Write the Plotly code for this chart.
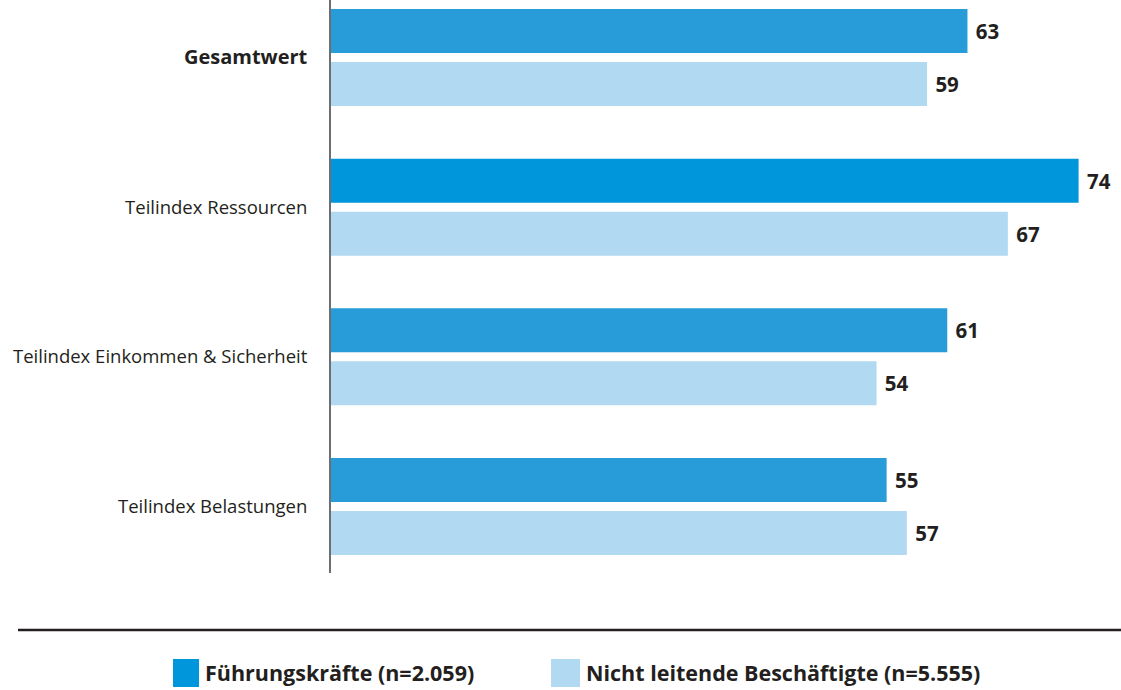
import plotly.graph_objects as go

categories = ["<span style='font-size:20px'><b>Gesamtwert</b></span>", "Teilindex Ressourcen",
              "Teilindex Einkommen & Sicherheit", "Teilindex Belastungen"]
fuehrung = [63, 74, 61, 55]
nicht_leitend = [59, 67, 54, 57]
series_names = ["Führungskräfte (n=2.059)", "Nicht leitende Beschäftigte (n=5.555)"]

dark_colors = ["#279cd9", "#0096db", "#279cd9", "#279cd9"]
light_color = "#b2d9f2"
text_color = "#231f20"
FONT = "Open Sans"

W, H = 1121, 690
ML, MR, MT, MB = 331, 2, 0, 117
PW, PH = W - ML - MR, H - MT - MB

def px_x(p):
    return (p - ML) / PW

def px_y(p):
    return (H - MB - p) / PH

fig = go.Figure()
fig.add_trace(go.Bar(
    y=categories, x=fuehrung, orientation="h", name=series_names[0],
    marker=dict(color=dark_colors, line=dict(width=0)),
    text=fuehrung, texttemplate=" %{x}", textposition="outside",
    textfont=dict(family=FONT, size=20.5, color=text_color, weight="bold"),
    cliponaxis=False, showlegend=False,
))
fig.add_trace(go.Bar(
    y=categories, x=nicht_leitend, orientation="h", name=series_names[1],
    marker=dict(color=light_color, line=dict(width=0)),
    text=nicht_leitend, texttemplate=" %{x}", textposition="outside",
    textfont=dict(family=FONT, size=20.5, color=text_color, weight="bold"),
    cliponaxis=False, showlegend=False,
))

shapes = [
    dict(type="line", xref="paper", yref="paper",
         x0=px_x(18), x1=px_x(1121), y0=px_y(630), y1=px_y(630),
         line=dict(color=text_color, width=2.5)),
    dict(type="rect", xref="paper", yref="paper",
         x0=px_x(173), x1=px_x(199), y0=px_y(659), y1=px_y(687),
         fillcolor="#0096db", line=dict(width=0)),
    dict(type="rect", xref="paper", yref="paper",
         x0=px_x(551), x1=px_x(580), y0=px_y(659), y1=px_y(687),
         fillcolor=light_color, line=dict(width=0)),
]
annotations = [
    dict(text="<b>" + series_names[0] + "</b>", xref="paper", yref="paper",
         x=px_x(203), y=px_y(672), xanchor="left", yanchor="middle",
         showarrow=False, font=dict(family=FONT, size=21.5, color=text_color)),
    dict(text="<b>" + series_names[1] + "</b>", xref="paper", yref="paper",
         x=px_x(584), y=px_y(672), xanchor="left", yanchor="middle",
         showarrow=False, font=dict(family=FONT, size=21.5, color=text_color)),
]

fig.update_layout(
    width=W, height=H,
    margin=dict(l=ML, r=MR, t=MT, b=MB, pad=0),
    paper_bgcolor="white", plot_bgcolor="white",
    barmode="group", bargap=0.292, bargroupgap=0.17,
    font=dict(family=FONT, size=18.5, color=text_color),
    showlegend=False,
    shapes=shapes, annotations=annotations,
    uniformtext=dict(mode=False),
)
fig.update_xaxes(range=[0, 78], visible=False, showgrid=False, zeroline=False)
fig.update_yaxes(
    type="category", range=[3.444, -0.384], autorange=False,
    showline=True, linecolor="#6d6e71", linewidth=2,
    showgrid=False, zeroline=False, ticks="", ticklabelstandoff=18,
    tickfont=dict(family=FONT, size=18.5, color=text_color),
)

fig.write_html(
    "out.html",
    config={"displayModeBar": False},
    post_script="document.body.style.margin='0';document.body.style.overflow='hidden';",
)
